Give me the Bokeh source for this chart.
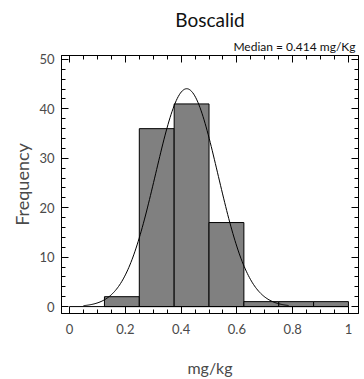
import numpy as np
from bokeh.plotting import figure
from bokeh.models import (Range1d, LinearAxis, FixedTicker, CustomJSTickFormatter, Title)
from bokeh.embed import file_html
from bokeh.resources import INLINE

# Data
bin_left = [0.125, 0.25, 0.375, 0.5, 0.625, 0.75, 0.875]
bin_right = [0.25, 0.375, 0.5, 0.625, 0.75, 0.875, 1.0]
counts = [2, 36, 41, 17, 1, 1, 1]
fit_mean = 0.42
fit_sigma = 0.112
fit_xmin, fit_xmax = 0.05, 0.785
title_text = "Boscalid"
median_text = "Median = 0.414 mg/Kg"
x_ticks = [0, 0.2, 0.4, 0.6, 0.8, 1.0]
y_ticks = [0, 10, 20, 30, 40, 50]

FONT = "Lato"
TXT = "#4a4a4a"

p = figure(width=364, height=379, output_backend="svg", toolbar_location=None,
           title=None,
           x_range=Range1d(-0.029, 1.036), y_range=Range1d(-1.4, 50.8),
           min_border_left=61, min_border_right=6, min_border_top=55, min_border_bottom=65,
           x_axis_location=None, y_axis_location=None)
p.grid.visible = False
p.outline_line_color = "black"
p.outline_line_width = 1
p.background_fill_color = "white"
p.border_fill_color = "white"

blank = CustomJSTickFormatter(code="return ''")

def style(ax, ticks, minor, labels=True):
    ax.ticker = FixedTicker(ticks=ticks, minor_ticks=minor)
    ax.major_tick_in = 7
    ax.major_tick_out = 0
    ax.minor_tick_in = 4
    ax.minor_tick_out = 0
    ax.axis_line_color = "black"
    ax.major_tick_line_color = "black"
    ax.minor_tick_line_color = "black"
    if labels:
        ax.major_label_text_font = FONT
        ax.major_label_text_color = TXT
        ax.axis_label_text_font = FONT
        ax.axis_label_text_font_style = "normal"
        ax.axis_label_text_color = TXT
    else:
        ax.formatter = blank
        ax.major_label_standoff = 0
        ax.major_label_text_font_size = "1px"

xminor = [round(i * 0.05, 3) for i in range(0, 21)]
yminor = list(range(0, 51, 2))

bx = LinearAxis(axis_label="mg/kg")
style(bx, x_ticks, xminor)
bx.major_label_text_font_size = "13px"
bx.major_label_standoff = 10
bx.axis_label_text_font_size = "16px"
bx.axis_label_standoff = 21
p.add_layout(bx, "below")

ly = LinearAxis(axis_label="Frequency")
style(ly, y_ticks, yminor)
ly.major_label_text_font_size = "13px"
ly.major_label_standoff = 7
ly.axis_label_text_font_size = "18px"
ly.axis_label_standoff = 3
p.add_layout(ly, "left")

tx = LinearAxis()
style(tx, x_ticks, xminor, labels=False)
p.add_layout(tx, "above")

ry = LinearAxis()
style(ry, y_ticks, yminor, labels=False)
p.add_layout(ry, "right")

# Title and median annotation (stacked above the frame)
p.add_layout(Title(text=median_text, align="right", text_font=FONT, text_font_size="12px",
                   text_font_style="normal", text_color="#111111", standoff=4, offset=3), "above")
p.add_layout(Title(text=title_text, align="center", text_font=FONT, text_font_size="19px",
                   text_font_style="normal", text_color="#111111", standoff=8), "above")

# Bars
p.quad(left=bin_left, right=bin_right, bottom=0, top=counts,
       fill_color="#808080", line_color="black", line_width=1)

# baseline
p.line(x=[x_ticks[0], x_ticks[-1]], y=[0, 0], line_color="black", line_width=1)

# Fitted normal curve
n_total = sum(counts)
bw = bin_right[0] - bin_left[0]
xs = np.linspace(fit_xmin, fit_xmax, 200)
ys = n_total * bw / (fit_sigma * np.sqrt(2 * np.pi)) * np.exp(-0.5 * ((xs - fit_mean) / fit_sigma) ** 2)
p.line(xs, ys, line_color="black", line_width=1)

open("out.html", "w").write(file_html(p, INLINE))
